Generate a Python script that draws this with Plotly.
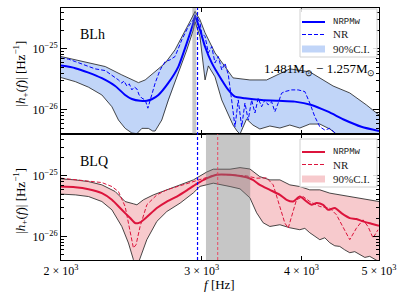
import math
import plotly.graph_objects as go

# ---------------- data (frequency in Hz, |h+(f)| in Hz^-1) ----------------
blh_med_f = [2000, 2084, 2165, 2250, 2338, 2406, 2453, 2512, 2561, 2598, 2648, 2725, 2805, 2874, 2929, 2943,
             2985, 3029, 3088, 3178, 3239, 3302, 3398, 3565, 3739, 3923, 4117, 4318, 4530, 4753, 5000]
blh_med_h = [5.32e-26, 4.83e-26, 4.09e-26, 3.31e-26, 2.47e-26, 1.76e-26, 1.51e-26, 1.41e-26, 1.42e-26, 1.50e-26,
             1.76e-26, 2.77e-26, 5.13e-26, 1.25e-25, 2.67e-25, 3.39e-25, 2.05e-25, 1.08e-25, 5.89e-26, 3.10e-26,
             2.13e-26, 1.65e-26, 1.56e-26, 1.46e-26, 1.41e-26, 1.37e-26, 1.21e-26, 9.38e-27, 6.86e-27, 5.32e-27,
             4.53e-27]

blh_up_f = [2000, 2084, 2165, 2272, 2383, 2500, 2549, 2623, 2700, 2778, 2860, 2915, 2943, 2985, 3029, 3117,
            3208, 3283, 3447, 3617, 3867, 4096, 4380, 4596, 4822, 5000]
blh_up_h = [7.48e-26, 6.61e-26, 5.83e-26, 5.13e-26, 3.75e-26, 2.80e-26, 3.10e-26, 4.25e-26, 5.83e-26, 9.63e-26,
            1.92e-25, 3.18e-25, 4.09e-25, 2.99e-25, 1.83e-25, 8.59e-26, 5.13e-26, 3.35e-26, 3.10e-26, 3.10e-26,
            4.70e-26, 4.20e-26, 2.47e-26, 1.90e-26, 1.21e-26, 8.28e-27]

blh_lo_f = [2000, 2084, 2165, 2250, 2316, 2360, 2406, 2453, 2489, 2525, 2573, 2605, 2623, 2674, 2725, 2805,
            2874, 2929, 2943, 2985, 3014, 3029, 3058, 3117, 3178, 3239, 3283, 3321, 3350, 3414, 3477, 3547,
            3651, 3758, 3867, 3980, 4096, 4216, 4339, 4423, 4530, 5000]
blh_lo_h = [3.39e-26, 2.91e-26, 2.36e-26, 1.76e-26, 1.13e-26, 6.86e-27, 5.01e-27, 4.20e-27, 4.10e-27, 5.01e-27,
            5.00e-27, 4.53e-27, 4.53e-27, 6.86e-27, 1.46e-26, 4.00e-26, 9.63e-26, 2.05e-25, 2.77e-25, 1.57e-25,
            5.47e-26, 3.10e-26, 5.26e-26, 3.48e-26, 1.46e-26, 8.28e-27, 5.68e-27, 4.53e-27, 4.04e-27, 7.11e-27,
            5.68e-27, 4.89e-27, 5.47e-27, 5.07e-27, 5.68e-27, 5.07e-27, 5.89e-27, 5.89e-27, 4.89e-27, 4.04e-27,
            3.22e-27, 2.50e-27]

blh_nr_f = [2000, 2044, 2084, 2165, 2207, 2272, 2316, 2360, 2383, 2397, 2418, 2435, 2453, 2470, 2489, 2505,
            2525, 2549, 2569, 2586, 2623, 2661, 2700, 2739, 2778, 2833, 2887, 2929, 2943, 2985, 3000, 3029,
            3058, 3088, 3117, 3147, 3178, 3208, 3239, 3270, 3302, 3333, 3366, 3398, 3430, 3464, 3497, 3530,
            3565, 3599, 3633, 3669, 3704, 3739, 3776, 3812, 3886, 3961, 4038, 4096, 4156, 4216, 4277, 4339,
            4380, 4455]
blh_nr_h = [7.05e-26, 6.78e-26, 6.19e-26, 5.13e-26, 4.70e-26, 4.41e-26, 3.75e-26, 3.10e-26, 2.74e-26, 2.99e-26,
            2.47e-26, 2.67e-26, 2.13e-26, 2.38e-26, 2.21e-26, 1.76e-26, 1.56e-26, 1.46e-26, 1.07e-26, 1.46e-26,
            2.74e-26, 4.53e-26, 6.19e-26, 6.61e-26, 7.48e-26, 1.41e-25, 2.32e-25, 2.99e-25, 3.61e-25, 2.67e-25,
            1.81e-25, 1.59e-25, 8.59e-26, 1.09e-25, 5.89e-26, 7.48e-26, 4.53e-26, 5.83e-26, 3.75e-26, 1.46e-26,
            5.32e-27, 1.46e-26, 5.32e-27, 1.30e-26, 6.86e-27, 1.46e-26, 8.93e-27, 1.56e-26, 1.13e-26, 1.46e-26,
            1.21e-26, 1.37e-26, 9.38e-27, 1.29e-26, 1.88e-26, 2.00e-26, 2.13e-26, 2.13e-26, 2.00e-26, 1.30e-26,
            7.76e-27, 5.32e-27, 4.70e-27, 5.01e-27, 4.53e-27, 3.60e-27]

blq_med_f = [2000, 2084, 2165, 2250, 2316, 2383, 2441, 2477, 2495, 2512, 2561, 2636, 2713, 2792, 2874, 2957,
             3044, 3132, 3255, 3350, 3414, 3477, 3547, 3651, 3758, 3831, 3904, 3980, 4058, 4117, 4176, 4256,
             4318, 4402, 4487, 4596, 4685, 4775, 4892, 5000]
blq_med_h = [6.67e-26, 6.52e-26, 6.04e-26, 5.19e-26, 4.03e-26, 2.75e-26, 2.01e-26, 1.66e-26, 1.65e-26, 1.70e-26,
             2.09e-26, 2.94e-26, 3.77e-26, 4.56e-26, 5.77e-26, 7.38e-26, 9.10e-26, 1.04e-25, 1.04e-25, 1.00e-25,
             9.52e-26, 8.59e-26, 7.11e-26, 5.88e-26, 4.86e-26, 4.03e-26, 3.77e-26, 4.56e-26, 3.77e-26, 3.33e-26,
             3.55e-26, 3.33e-26, 2.75e-26, 2.94e-26, 2.43e-26, 2.01e-26, 1.94e-26, 1.77e-26, 1.62e-26, 1.50e-26]

blq_up_f = [2000, 2084, 2165, 2250, 2338, 2406, 2464, 2489, 2536, 2610, 2713, 2819, 2929, 3044, 3102, 3255,
            3350, 3447, 3547, 3651, 3758, 3867, 3980, 4096, 4216, 4339, 4465, 4596, 4730, 4868, 5000]
blq_up_h = [8.93e-26, 8.59e-26, 8.05e-26, 7.11e-26, 5.51e-26, 3.77e-26, 3.46e-26, 3.33e-26, 4.03e-26, 4.86e-26,
            5.88e-26, 7.11e-26, 8.59e-26, 1.16e-25, 1.29e-25, 1.29e-25, 1.37e-25, 1.30e-25, 9.73e-26, 8.59e-26,
            8.59e-26, 7.11e-26, 6.67e-26, 5.88e-26, 5.88e-26, 5.19e-26, 4.86e-26, 4.56e-26, 4.29e-26, 4.03e-26,
            3.77e-26]

blq_lo_f = [2000, 2084, 2165, 2250, 2316, 2383, 2429, 2464, 2495, 2512, 2561, 2636, 2713, 2819, 2929, 2985,
            3102, 3255, 3350, 3447, 3514, 3581, 3651, 3758, 3867, 3980, 4038, 4096, 4156, 4216, 4277, 4339,
            4402, 4465, 4530, 4596, 4663, 4730, 4800, 4868, 4935, 5000]
blq_lo_h = [5.00e-26, 4.86e-26, 4.56e-26, 3.77e-26, 2.75e-26, 1.46e-26, 7.78e-27, 4.13e-27, 3.42e-27, 4.46e-27,
            8.83e-27, 1.77e-26, 2.58e-26, 3.55e-26, 5.25e-26, 6.71e-26, 7.58e-26, 6.67e-26, 6.11e-26, 4.34e-26,
            2.46e-26, 1.68e-26, 1.46e-26, 1.56e-26, 1.39e-26, 1.29e-26, 1.36e-26, 1.15e-26, 1.02e-26, 8.83e-27,
            9.50e-27, 7.87e-27, 7.00e-27, 6.84e-27, 6.00e-27, 5.38e-27, 5.60e-27, 5.00e-27, 4.50e-27, 4.69e-27,
            4.20e-27, 3.83e-27]

blq_nr_f = [2000, 2084, 2165, 2250, 2316, 2360, 2406, 2441, 2464, 2483, 2512, 2561, 2636, 2713, 2846, 2985,
            3073, 3132, 3255, 3414, 3514, 3617, 3686, 3758, 3812, 3849, 3886, 3942, 4018, 4096, 4216, 4339,
            4423, 4508, 4596, 4685, 4775, 4844, 4915, 4986]
blq_nr_h = [9.16e-26, 8.59e-26, 8.28e-26, 7.76e-26, 6.67e-26, 5.51e-26, 3.12e-26, 1.29e-26, 6.44e-27, 7.30e-27,
            1.46e-26, 3.33e-26, 4.86e-26, 5.88e-26, 7.11e-26, 8.83e-26, 9.73e-26, 1.06e-25, 1.04e-25, 1.00e-25,
            9.16e-26, 9.27e-26, 7.11e-26, 3.12e-26, 1.66e-26, 1.37e-26, 2.13e-26, 4.03e-26, 4.56e-26, 3.77e-26,
            3.12e-26, 2.94e-26, 2.28e-26, 1.46e-26, 8.83e-27, 1.37e-26, 1.88e-26, 1.46e-26, 9.42e-27, 1.29e-26]

# peak-frequency markers
blh_band = [2920, 2954]
blh_fpeak = 2964
blq_band = [3037, 3450]
blq_fpeak = 3141

x_range = [2000, 5000]
x_ticks = [2000, 3000, 4000, 5000]
x_ticktext = ["2 × 10<sup>3</sup>", "3 × 10<sup>3</sup>", "4 × 10<sup>3</sup>", "5 × 10<sup>3</sup>"]
y_ticks = [1e-26, 1e-25]
y_ticktext = ["10<sup>−26</sup>", "10<sup>−25</sup>"]
y_range_top = [4.05e-27, 4.65e-25]
y_range_bot = [4.08e-27, 4.92e-25]

legend_labels = ["NRPMw", "NR", "90%C.I."]
panel_labels = ["BLh", "BLQ"]
mass_label = "1.481M<sub>⊙</sub> − 1.257M<sub>⊙</sub>"

SERIF = "Liberation Serif"
MONO = "Liberation Mono"
BLUE = "#0000ff"
RED = "#dc143c"
BLUE_FILL = "rgba(100,149,237,0.40)"
RED_FILL = "rgba(230,80,90,0.30)"
DASH = "4px,2px"

fig = go.Figure()


def panel(xa, ya, lo_f, lo_h, up_f, up_h, med_f, med_h, nr_f, nr_h, color, fill):
    fig.add_trace(go.Scatter(x=up_f + lo_f[::-1], y=up_h + lo_h[::-1], fill="toself", fillcolor=fill,
                             mode="lines", line=dict(width=0), name=legend_labels[2], xaxis=xa, yaxis=ya,
                             showlegend=False, hoverinfo="skip"))
    for ff, hh in ((lo_f, lo_h), (up_f, up_h)):
        fig.add_trace(go.Scatter(x=ff, y=hh, mode="lines", line=dict(color="#1a1a1a", width=0.8),
                                 showlegend=False, xaxis=xa, yaxis=ya, hoverinfo="skip"))
    fig.add_trace(go.Scatter(x=med_f, y=med_h, mode="lines",
                             line=dict(color=color, width=2, shape="spline", smoothing=0.6),
                             name=legend_labels[0], xaxis=xa, yaxis=ya, showlegend=False))
    fig.add_trace(go.Scatter(x=nr_f, y=nr_h, mode="lines", line=dict(color=color, width=1, dash=DASH),
                             name=legend_labels[1], xaxis=xa, yaxis=ya, showlegend=False))


panel("x", "y", blh_lo_f, blh_lo_h, blh_up_f, blh_up_h, blh_med_f, blh_med_h,
      blh_nr_f, blh_nr_h, BLUE, BLUE_FILL)
panel("x2", "y2", blq_lo_f, blq_lo_h, blq_up_f, blq_up_h, blq_med_f, blq_med_h,
      blq_nr_f, blq_nr_h, RED, RED_FILL)

shapes = [
    dict(type="rect", xref="x", yref="y domain", x0=blh_band[0], x1=blh_band[1], y0=0, y1=1,
         fillcolor="rgba(120,120,120,0.42)", line=dict(width=0), layer="above"),
    dict(type="rect", xref="x", yref="y2 domain", x0=blq_band[0], x1=blq_band[1], y0=0, y1=1,
         fillcolor="rgba(120,120,120,0.42)", line=dict(width=0), layer="above"),
    dict(type="line", xref="x", yref="y2 domain", x0=blq_fpeak, x1=blq_fpeak, y0=0, y1=1,
         line=dict(color="rgba(235,60,90,0.75)", width=1.2, dash="3px,2px"), layer="above"),
    dict(type="line", xref="x", yref="paper", x0=blh_fpeak, x1=blh_fpeak, y0=0, y1=1,
         line=dict(color=BLUE, width=1.2, dash="3px,2px"), layer="above"),
]
annotations = []


# compact legend box (matplotlib-style) drawn in paper coordinates
def legend_box(top, color, fill):
    px_w, px_h = 318.0, 252.0

    def yy(dpx):
        return top - dpx / px_h
    x0, x1 = 239 / px_w, 316 / px_w
    shapes.append(dict(type="rect", xref="paper", yref="paper", x0=x0, x1=x1, y0=yy(48), y1=yy(0),
                       fillcolor="rgba(255,255,255,0.85)", line=dict(color="#d0d0d0", width=1), layer="above"))
    lx0, lx1, tx = 241 / px_w, 264 / px_w, 270 / px_w
    rows = [13, 25.5, 40]
    shapes.append(dict(type="line", xref="paper", yref="paper", x0=lx0, x1=lx1, y0=yy(rows[0]), y1=yy(rows[0]),
                       line=dict(color=color, width=2), layer="above"))
    shapes.append(dict(type="line", xref="paper", yref="paper", x0=lx0, x1=lx1, y0=yy(rows[1]), y1=yy(rows[1]),
                       line=dict(color=color, width=1, dash=DASH), layer="above"))
    shapes.append(dict(type="rect", xref="paper", yref="paper", x0=lx0, x1=lx1, y0=yy(rows[2] + 3.5),
                       y1=yy(rows[2] - 3.5), fillcolor=fill, line=dict(width=0), layer="above"))
    fonts = [dict(family=MONO, size=9, color="#222"), dict(family=SERIF, size=11, color="#222"),
             dict(family=SERIF, size=11, color="#222")]
    for lab, r, fnt in zip(legend_labels, rows, fonts):
        annotations.append(dict(text=lab, xref="paper", yref="paper", x=tx, y=yy(r), xanchor="left",
                                yanchor="middle", showarrow=False, font=fnt))


legend_box(1 - 1 / 252, BLUE, BLUE_FILL)
legend_box(0.5 - 5 / 252, RED, RED_FILL)

annotations += [
    dict(text=panel_labels[0], xref="paper", yref="paper", x=0.053, y=0.893, xanchor="left", yanchor="middle",
         showarrow=False, font=dict(family=SERIF, size=14, color="black")),
    dict(text=panel_labels[1], xref="paper", yref="paper", x=0.053, y=0.389, xanchor="left", yanchor="middle",
         showarrow=False, font=dict(family=SERIF, size=14, color="black")),
    dict(text=mass_label, xref="paper", yref="paper", x=0.993, y=0.754,
         xanchor="right", yanchor="middle", showarrow=False, font=dict(family=SERIF, size=13, color="black")),
    dict(text="|<i>h</i><sub>+</sub>(<i>f</i>)| [Hz<sup>−1</sup>]", xref="paper", yref="paper",
         x=-0.129, y=0.74, textangle=-90, xanchor="center", yanchor="middle", showarrow=False,
         font=dict(family=SERIF, size=13, color="black")),
    dict(text="|<i>h</i><sub>+</sub>(<i>f</i>)| [Hz<sup>−1</sup>]", xref="paper", yref="paper",
         x=-0.129, y=0.235, textangle=-90, xanchor="center", yanchor="middle", showarrow=False,
         font=dict(family=SERIF, size=13, color="black")),
    dict(text="<i>f</i> [Hz]", xref="paper", yref="paper", x=0.497, y=-0.099, xanchor="center",
         yanchor="middle", showarrow=False, font=dict(family=SERIF, size=13, color="black")),
]

common_x = dict(type="log", range=[math.log10(v) for v in x_range], tickvals=x_ticks, ticktext=x_ticktext,
                ticks="inside", ticklen=4, tickcolor="black", showline=True, linecolor="black", linewidth=1,
                mirror="allticks", showgrid=False, zeroline=False,
                tickfont=dict(family=SERIF, size=12, color="black"))
minor_vals = [k * 10.0 ** e for e in (-27, -26, -25) for k in range(2, 10)]
common_y = dict(type="log", tickvals=y_ticks, ticktext=y_ticktext, ticks="inside", ticklen=6,
                tickcolor="black", showline=True, linecolor="black", linewidth=1, mirror="allticks",
                showgrid=False, zeroline=False, tickfont=dict(family=SERIF, size=12, color="black"),
                minor=dict(tickvals=minor_vals, ticks="inside", ticklen=3, tickcolor="black", showgrid=False))

fig.update_layout(
    width=407, height=301, margin=dict(l=61, r=28, t=8, b=41),
    paper_bgcolor="white", plot_bgcolor="white", showlegend=False,
    xaxis=dict(common_x, domain=[0, 1], anchor="y", showticklabels=False),
    xaxis2=dict(common_x, domain=[0, 1], anchor="y2", matches="x"),
    yaxis=dict(common_y, domain=[0.5, 1], anchor="x", range=[math.log10(v) for v in y_range_top]),
    yaxis2=dict(common_y, domain=[0, 0.5], anchor="x2", range=[math.log10(v) for v in y_range_bot]),
    shapes=shapes,
    annotations=annotations,
)

fig.write_html("out.html", config={"displayModeBar": False},
               post_script="document.body.style.margin='0px';")
